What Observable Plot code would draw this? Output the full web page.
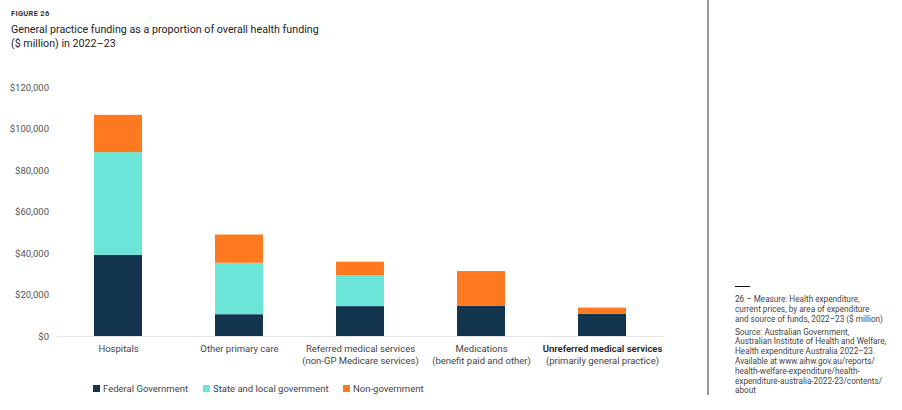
<!DOCTYPE html>
<html>
<head>
<meta charset="utf-8">
<script src="https://cdn.jsdelivr.net/npm/d3@7"></script>
<script src="https://cdn.jsdelivr.net/npm/@observablehq/plot@0.6"></script>
<style>
  html, body { margin: 0; padding: 0; background: #fff; }
  body { width: 902px; height: 410px; position: relative; overflow: hidden; font-family: Roboto, "Noto Sans", sans-serif; }
  #fig { position: absolute; left: 11px; top: 9px; font-size: 7.5px; font-weight: 700; letter-spacing: 0.3px; color: #333; }
  #title { position: absolute; left: 11px; top: 23px; font-size: 10.7px; line-height: 14px; color: #222; }
  #chart { position: absolute; left: 0; top: 60px; }
  #legend { position: absolute; left: 93px; top: 383px; font-size: 9.5px; color: #444; display: flex; }
  #legend .item { display: flex; align-items: center; position: absolute; white-space: nowrap; }
  #legend .sw { width: 7px; height: 7px; margin-right: 3px; }
  #divider { position: absolute; left: 707px; top: 0; width: 1.5px; height: 395px; background: #9a9a9a; }
  #notes { position: absolute; left: 735px; top: 286px; font-size: 8.2px; line-height: 9.8px; color: #444; width: 167px; }
  #notes .dash { width: 15px; height: 1.2px; background: #111; margin-bottom: 8px; }
  #notes p { margin: 0 0 3px 0; }
</style>
</head>
<body>
<div id="fig">FIGURE 26</div>
<div id="title">General practice funding as a proportion of overall health funding<br>($ million) in 2022–23</div>
<div id="chart"></div>
<div id="legend"></div>
<div id="divider"></div>
<div id="notes">
  <div class="dash"></div>
  <p>26 – Measure: Health expenditure,<br>current prices, by area of expenditure<br>and source of funds, 2022–23 ($ million)</p>
  <p>Source: Australian Government,<br>Australian Institute of Health and Welfare,<br>Health expenditure Australia 2022–23.<br>Available at www.aihw.gov.au/reports/<br>health-welfare-expenditure/health-<br>expenditure-australia-2022-23/contents/<br>about</p>
</div>
<script>
const categories = ["Hospitals", "Other primary care", "Referred medical services", "Medications", "Unreferred medical services"];
const subLabels = ["", "", "(non-GP Medicare services)", "(benefit paid and other)", "(primarily general practice)"];
const series = ["Federal Government", "State and local government", "Non-government"];
const federal = [39100, 10500, 14400, 14500, 10800];
const stateLocal = [49500, 24800, 14800, 0, 0];
const nonGov = [18000, 13600, 6600, 16800, 2900];
const yTicks = [0, 20000, 40000, 60000, 80000, 100000, 120000];
const colors = ["#12344d", "#6ae5d7", "#ff7920"];
const boldCategory = "Unreferred medical services";

const values = [federal, stateLocal, nonGov];
const rows = [];
series.forEach((s, si) => {
  categories.forEach((c, ci) => {
    rows.push({category: c, source: s, value: values[si][ci]});
  });
});
const labelRows = categories.map((c, i) => ({category: c, sub: subLabels[i]}));

const chart = Plot.plot({
  width: 700,
  height: 320,
  marginTop: 27,
  marginBottom: 44,
  marginLeft: 56.5,
  marginRight: 36,
  style: {fontFamily: "Roboto, 'Noto Sans', sans-serif", background: "transparent"},
  x: {domain: categories, paddingInner: 0.6, paddingOuter: 0.3, axis: null},
  y: {domain: [0, 120000], ticks: yTicks, label: null, tickFormat: d => "$" + d3.format(",")(d)},
  color: {domain: series, range: colors},
  marks: [
    Plot.ruleY([0], {stroke: "#e6e6e6", strokeWidth: 1.2}),
    Plot.barY(rows, Plot.stackY({x: "category", y: "value", fill: "source", order: series, inset: 0})),
    Plot.axisY({ticks: yTicks, tickSize: 0, tickPadding: 8, fontSize: 9.5, fill: "#555", label: null, tickFormat: d => "$" + d3.format(",")(d)}),
    Plot.text(labelRows.filter(d => d.category !== boldCategory), {x: "category", y: 0, text: "category", dy: 12, fontSize: 9.5, fill: "#444"}),
    Plot.text(labelRows.filter(d => d.category === boldCategory), {x: "category", y: 0, text: "category", dy: 12, fontSize: 9.5, fill: "#222", fontWeight: 600}),
    Plot.text(labelRows, {x: "category", y: 0, text: "sub", dy: 24, fontSize: 9.5, fill: "#444"})
  ]
});
document.getElementById("chart").appendChild(chart);

const legend = document.getElementById("legend");
const offsets = [0, 110, 250];
series.forEach((s, i) => {
  const item = document.createElement("div");
  item.className = "item";
  item.style.left = offsets[i] + "px";
  item.innerHTML = `<span class="sw" style="background:${colors[i]}"></span><span>${s}</span>`;
  legend.appendChild(item);
});
</script>
</body>
</html>
